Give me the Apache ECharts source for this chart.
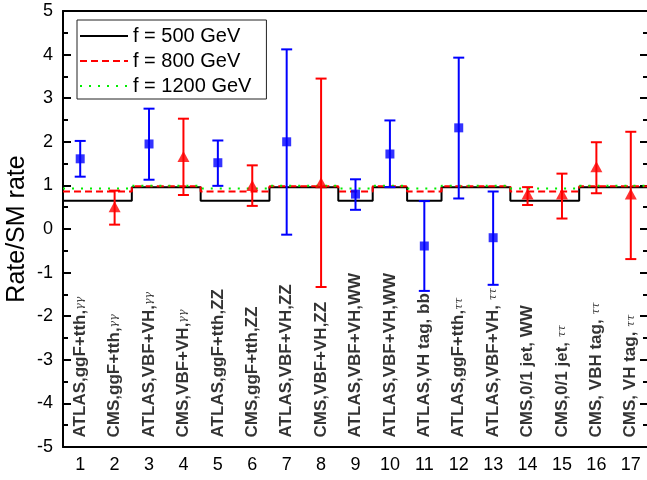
<!DOCTYPE html>
<html>
<head>
<meta charset="utf-8">
<script src="https://cdn.jsdelivr.net/npm/echarts@6/dist/echarts.min.js"></script>
<style>
  html, body { margin: 0; padding: 0; background: #fff; }
  #main { width: 647px; height: 480px; }
</style>
</head>
<body>
<div id="main"></div>
<script>
var chart = echarts.init(document.getElementById('main'));

// channel numbers and names
var bins = [1, 2, 3, 4, 5, 6, 7, 8, 9, 10, 11, 12, 13, 14, 15, 16, 17];
var channels = [
  'ATLAS,ggF+tth,γγ', 'CMS,ggF+tth,γγ', 'ATLAS,VBF+VH,γγ', 'CMS,VBF+VH,γγ',
  'ATLAS,ggF+tth,ZZ', 'CMS,ggF+tth,ZZ', 'ATLAS,VBF+VH,ZZ', 'CMS,VBF+VH,ZZ',
  'ATLAS,VBF+VH,WW', 'ATLAS,VBF+VH,WW', 'ATLAS,VH tag, bb', 'ATLAS,ggF+tth,ττ',
  'ATLAS,VBF+VH, ττ', 'CMS,0/1 jet, WW', 'CMS,0/1 jet, ττ', 'CMS, VBH tag, ττ',
  'CMS, VH tag, ττ'
];

// model predictions per channel
var f500  = [0.65, 0.65, 0.96, 0.96, 0.65, 0.65, 0.96, 0.96, 0.65, 0.96, 0.65, 0.96, 0.96, 0.65, 0.65, 0.96, 0.96];
var f800  = [0.86, 0.86, 0.98, 0.98, 0.86, 0.86, 0.98, 0.98, 0.86, 0.98, 0.86, 0.98, 0.98, 0.86, 0.86, 0.98, 0.98];
var f1200 = [0.93, 0.93, 0.99, 0.99, 0.93, 0.93, 0.99, 0.99, 0.93, 0.99, 0.93, 0.99, 0.99, 0.93, 0.93, 0.99, 0.99];

// ATLAS measurements
var atlasX   = [1, 3, 5, 7, 9, 10, 11, 12, 13];
var atlasVal = [1.61, 1.95, 1.52, 2.0, 0.8, 1.72, -0.39, 2.32, -0.2];
var atlasLo  = [1.2, 1.13, 0.99, -0.13, 0.44, 0.96, -1.42, 0.70, -1.28];
var atlasHi  = [2.02, 2.76, 2.03, 4.12, 1.14, 2.49, 0.64, 3.93, 0.86];

// CMS measurements
var cmsX   = [2, 4, 6, 8, 14, 15, 16, 17];
var cmsVal = [0.51, 1.66, 1.0, 1.06, 0.8, 0.8, 1.43, 0.8];
var cmsLo  = [0.10, 0.78, 0.53, -1.33, 0.55, 0.24, 0.82, -0.69];
var cmsHi  = [0.88, 2.53, 1.46, 3.45, 0.96, 1.27, 1.99, 2.23];

var labelY = -4.78; // where the vertical channel names start

function stepData(vals) {
  var d = [];
  for (var i = 0; i < vals.length; i++) d.push([bins[i] - 0.5, vals[i]]);
  d.push([bins[bins.length - 1] + 0.5, vals[vals.length - 1]]);
  return d;
}

function errRender(color) {
  return function (params, api) {
    var x = api.value(0);
    var top = api.coord([x, api.value(2)]);
    var bot = api.coord([x, api.value(1)]);
    var w = 5.5;
    var st = { stroke: color, lineWidth: 2 };
    return {
      type: 'group',
      children: [
        { type: 'line', shape: { x1: top[0], y1: top[1], x2: bot[0], y2: bot[1] }, style: st },
        { type: 'line', shape: { x1: top[0] - w, y1: top[1], x2: top[0] + w, y2: top[1] }, style: st },
        { type: 'line', shape: { x1: bot[0] - w, y1: bot[1], x2: bot[0] + w, y2: bot[1] }, style: st }
      ]
    };
  };
}

var font = 'Liberation Sans, Arial, sans-serif';

var option = {
  backgroundColor: '#fff',
  animation: false,
  grid: { left: 63, top: 11, width: 585, height: 436, outerBoundsMode: 'none' },
  legend: {
    left: 77, top: 20,
    orient: 'vertical',
    selectedMode: false,
    itemWidth: 48, itemHeight: 14, itemGap: 3,
    padding: [5, 15, 2, 2],
    borderColor: '#222', borderWidth: 1,
    backgroundColor: '#fff',
    itemStyle: { opacity: 0 },
    textStyle: { fontFamily: font, fontSize: 20, color: '#000', lineHeight: 22 },
    data: ['f = 500 GeV', 'f = 800 GeV', 'f = 1200 GeV']
  },
  xAxis: [
    {
      type: 'category', data: bins.map(String), position: 'bottom',
      axisLine: { onZero: false, lineStyle: { color: '#000', width: 2 } },
      axisTick: { inside: true, alignWithLabel: true, length: 8, lineStyle: { color: '#000', width: 2 } },
      axisLabel: { interval: 0, fontFamily: font, fontSize: 18, color: '#000', margin: 9 },
      splitLine: { show: false }
    },
    {
      type: 'category', data: bins.map(String), position: 'top',
      axisLine: { onZero: false, lineStyle: { color: '#000', width: 2 } },
      axisTick: { inside: true, alignWithLabel: true, length: 8, lineStyle: { color: '#000', width: 2 } },
      axisLabel: { show: false },
      splitLine: { show: false }
    },
    { type: 'value', min: 0.5, max: 17.5, show: false }
  ],
  yAxis: [
    {
      type: 'value', min: -5, max: 5, interval: 1, position: 'left',
      name: 'Rate/SM rate', nameLocation: 'middle', nameGap: 33, nameMoveOverlap: false,
      nameTextStyle: { fontFamily: font, fontSize: 25, color: '#000' },
      axisLine: { show: true, onZero: false, lineStyle: { color: '#000', width: 2 } },
      axisTick: { show: true, inside: true, length: 8, lineStyle: { color: '#000', width: 2 } },
      minorTick: { show: true, splitNumber: 2, length: 5, lineStyle: { color: '#000', width: 2 } },
      axisLabel: { fontFamily: font, fontSize: 18, color: '#000', margin: 10 },
      splitLine: { show: false }
    },
    {
      type: 'value', min: -5, max: 5, interval: 1, position: 'right',
      axisLine: { show: true, onZero: false, lineStyle: { color: '#000', width: 2 } },
      axisTick: { show: true, inside: true, length: 8, lineStyle: { color: '#000', width: 2 } },
      minorTick: { show: true, splitNumber: 2, length: 5, lineStyle: { color: '#000', width: 2 } },
      axisLabel: { show: false },
      splitLine: { show: false }
    }
  ],
  series: [
    {
      name: 'f = 500 GeV', type: 'line', step: 'end', xAxisIndex: 2, yAxisIndex: 0,
      symbol: 'none', data: stepData(f500), z: 2,
      itemStyle: { color: '#000' },
      lineStyle: { color: '#000', width: 2, type: 'solid' }
    },
    {
      name: 'f = 800 GeV', type: 'line', step: 'end', xAxisIndex: 2, yAxisIndex: 0,
      symbol: 'none', data: stepData(f800), z: 3,
      itemStyle: { color: '#ff0000' },
      lineStyle: { color: '#ff0000', width: 2, type: [7, 4] }
    },
    {
      name: 'f = 1200 GeV', type: 'line', step: 'end', xAxisIndex: 2, yAxisIndex: 0,
      symbol: 'none', data: stepData(f1200), z: 4,
      itemStyle: { color: '#00ee00' },
      lineStyle: { color: '#00ee00', width: 2, type: [2, 7] }
    },
    {
      type: 'custom', xAxisIndex: 2, yAxisIndex: 0, z: 5,
      renderItem: errRender('#0000ff'),
      encode: { x: 0, y: [1, 2] },
      data: atlasX.map(function (x, i) { return [x, atlasLo[i], atlasHi[i]]; })
    },
    {
      type: 'custom', xAxisIndex: 2, yAxisIndex: 0, z: 5,
      renderItem: errRender('#ff0000'),
      encode: { x: 0, y: [1, 2] },
      data: cmsX.map(function (x, i) { return [x, cmsLo[i], cmsHi[i]]; })
    },
    {
      type: 'scatter', xAxisIndex: 2, yAxisIndex: 0, z: 6,
      symbol: 'rect', symbolSize: 9,
      itemStyle: { color: '#0000ff' },
      data: atlasX.map(function (x, i) { return [x, atlasVal[i]]; })
    },
    {
      type: 'scatter', xAxisIndex: 2, yAxisIndex: 0, z: 6,
      symbol: 'triangle', symbolSize: [12, 11],
      itemStyle: { color: '#ff0000' },
      data: cmsX.map(function (x, i) { return [x, cmsVal[i]]; })
    },
    {
      type: 'scatter', xAxisIndex: 2, yAxisIndex: 0, z: 7,
      symbol: 'rect', symbolSize: 1, silent: true,
      itemStyle: { color: 'rgba(0,0,0,0)' },
      labelLayout: { hideOverlap: false },
      label: {
        show: true, position: 'inside', rotate: 90, align: 'left', verticalAlign: 'middle',
        formatter: function (p) {
          var s = channels[p.dataIndex];
          var m = s.match(/^(.*?)(γγ|ττ)$/);
          if (m) return '{b|' + m[1] + '}{g|' + m[2] + '}';
          return '{b|' + s + '}';
        },
        rich: {
          b: { fontFamily: font, fontSize: 17, fontWeight: 'bold', color: '#000' },
          g: { fontFamily: 'DejaVu Serif, serif', fontSize: 11, fontStyle: 'italic', color: '#000' }
        }
      },
      data: bins.map(function (x) { return [x, labelY]; })
    }
  ]
};

chart.setOption(option);
</script>
</body>
</html>
